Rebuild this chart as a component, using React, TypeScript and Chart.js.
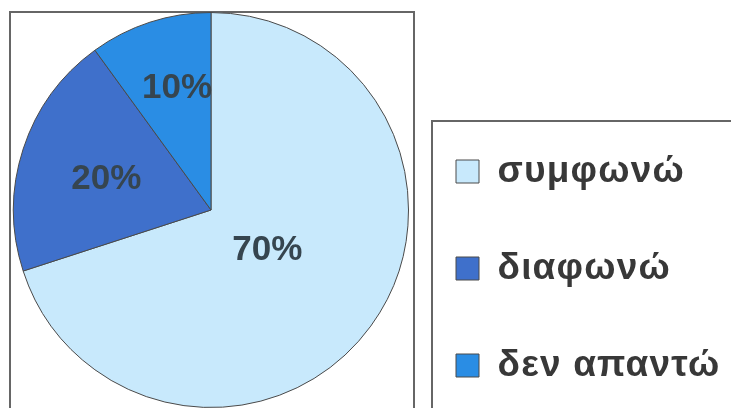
import React, { useEffect, useRef } from 'react';
import { Chart, registerables } from 'chart.js';

Chart.register(...registerables);

// ---- data ----
const categories: string[] = ['συμφωνώ', 'διαφωνώ', 'δεν απαντώ'];
const percentages: number[] = [70, 20, 10];

// ---- styles ----
const sliceColors: string[] = ['#c8e9fc', '#3f70cb', '#2a8de4'];
const labelRadiusFractions: number[] = [0.35, 0.553, 0.64];
const labelAngleOffsetsDeg: number[] = [-0.5, -1.6, 2.4];
const FONT = '"Liberation Sans", Arial, sans-serif';
const LEGEND_FONT_SIZE = 37;
const LEGEND_BOX = 23;
const LEGEND_PAD = 60;

export default function App() {
  const ref = useRef<HTMLCanvasElement>(null);

  useEffect(() => {
    const canvas = ref.current;
    if (!canvas) return;

    const framePlugin = {
      id: 'frames',
      beforeDraw(chart: any) {
        const ctx = chart.ctx;
        ctx.save();
        ctx.fillStyle = '#ffffff';
        ctx.fillRect(0, 0, chart.width, chart.height);
        ctx.strokeStyle = '#666666';
        ctx.lineWidth = 2;
        ctx.strokeRect(10, 12, 404, 420);
        ctx.strokeRect(432, 121, 340, 340);
        ctx.restore();
        // slightly wider letter spacing for the legend text
        (ctx as any).letterSpacing = '1.2px';
      },
      beforeDatasetsDraw(chart: any) {
        (chart.ctx as any).letterSpacing = '0px';
      },
    };

    const legendPlace = {
      id: 'legendPlace',
      afterLayout(chart: any) {
        const lg = chart.legend;
        if (!lg) return;
        const boxTopOffset = (LEGEND_FONT_SIZE - LEGEND_BOX) / 2;
        lg.left = 456 - LEGEND_PAD;
        lg.right = chart.width;
        lg.width = lg.right - lg.left;
        lg.top = 160 - boxTopOffset - LEGEND_PAD;
        lg.bottom = lg.top + 600;
        lg.height = 600;
      },
    };

    const pctLabels = {
      id: 'pctLabels',
      afterDatasetsDraw(chart: any) {
        const meta = chart.getDatasetMeta(0);
        const ctx = chart.ctx;
        ctx.save();
        (ctx as any).letterSpacing = '0px';
        ctx.font = `bold 35px ${FONT}`;
        ctx.fillStyle = '#36454f';
        ctx.textAlign = 'center';
        ctx.textBaseline = 'middle';
        meta.data.forEach((arc: any, i: number) => {
          const { x, y, startAngle, endAngle, outerRadius } = arc.getProps(
            ['x', 'y', 'startAngle', 'endAngle', 'outerRadius'],
            true
          );
          const mid = (startAngle + endAngle) / 2 + (labelAngleOffsetsDeg[i] * Math.PI) / 180;
          const r = outerRadius * labelRadiusFractions[i];
          ctx.fillText(`${percentages[i]}%`, x + r * Math.cos(mid), y + r * Math.sin(mid));
        });
        ctx.restore();
      },
    };

    const chart = new Chart(canvas, {
      type: 'pie',
      data: {
        labels: categories,
        datasets: [
          {
            data: percentages,
            backgroundColor: sliceColors,
            borderColor: '#4a4a4a',
            borderWidth: 1,
          },
        ],
      },
      options: {
        responsive: false,
        animation: false,
        events: [],
        layout: { padding: { left: 13, top: 12, right: 222, bottom: 0 } },
        plugins: {
          tooltip: { enabled: false },
          legend: {
            display: true,
            position: 'right',
            align: 'start',
            maxWidth: 100,
            labels: {
              boxWidth: LEGEND_BOX,
              boxHeight: LEGEND_BOX,
              padding: LEGEND_PAD,
              color: '#383838',
              font: { family: FONT, size: LEGEND_FONT_SIZE, weight: 'bold' },
            },
          },
        },
      },
      plugins: [framePlugin, legendPlace, pctLabels],
    } as any);

    return () => chart.destroy();
  }, []);

  return (
    <div style={{ position: 'absolute', left: 0, top: 0, width: 731, height: 408, overflow: 'hidden', background: '#fff' }}>
      <canvas ref={ref} width={731} height={408} style={{ display: 'block', width: 731, height: 408 }} />
    </div>
  );
}
